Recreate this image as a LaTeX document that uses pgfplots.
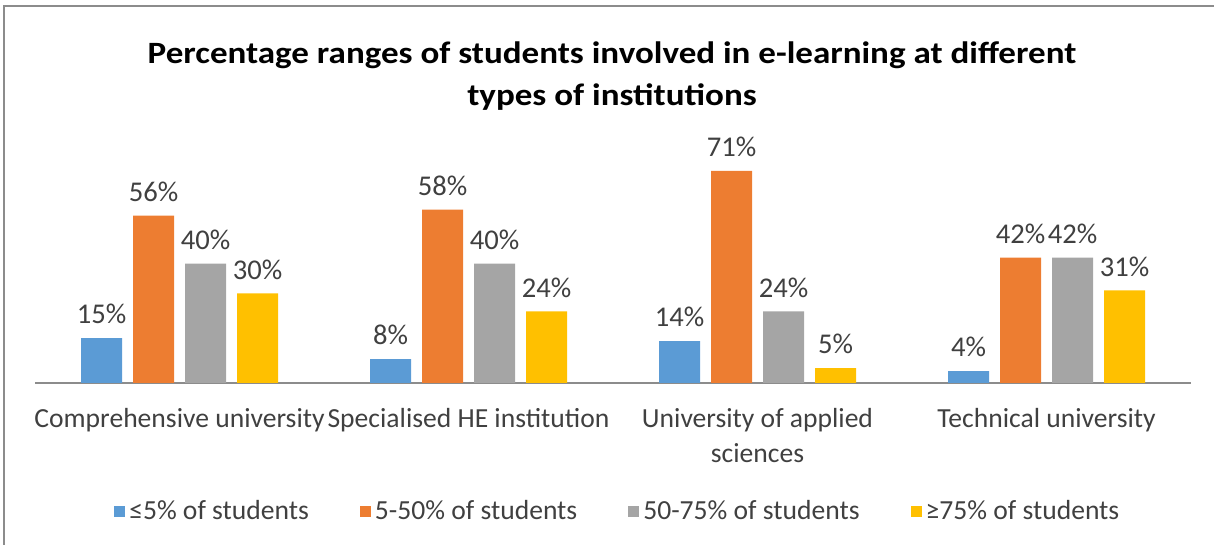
\documentclass[border=0pt]{standalone}
\usepackage{pgfplots}
\pgfplotsset{compat=1.18}
\usepackage{fontspec}
\setmainfont{Carlito}
\definecolor{cBlue}{HTML}{5B9BD5}
\definecolor{cOrange}{HTML}{ED7D31}
\definecolor{cGray}{HTML}{A5A5A5}
\definecolor{cYellow}{HTML}{FFC000}
\definecolor{txt}{HTML}{404040}
\begin{document}
\begin{tikzpicture}[x=1pt,y=1pt]
\path[use as bounding box] (0,0) rectangle (607,272.5);
\draw[color=black!45, line width=0.8pt] (2,0) -- (2,269.5) -- (607,269.5);
\node[align=center, text=black, font=\fontsize{15.5}{21}\selectfont\bfseries] at (306,234.5)
  {\scalebox{1.13}[1]{Percentage ranges of students involved in e-learning at different}\\
   \scalebox{1.13}[1]{types of institutions}};
\begin{axis}[
  at={(17.5pt,81pt)}, anchor=south west,
  scale only axis, width=578pt, height=116.5pt,
  xmin=-0.5, xmax=3.5, ymin=0, ymax=78,
  ybar=5.5pt, bar width=20.5pt,
  axis y line=none,
  axis x line*=bottom,
  x axis line style={color=black!45, line width=0.8pt},
  xtick=data,
  xticklabels={Comprehensive university,Specialised HE institution,University of applied\\sciences,Technical university},
  xticklabel style={align=center, font=\fontsize{13.8}{17.5}\selectfont, text=txt, yshift=-9pt},
  major tick length=0pt,
  /pgf/number format/assume math mode=true,
  nodes near coords={\pgfmathprintnumber{\pgfplotspointmeta}\%},
  nodes near coords style={font=\fontsize{14.3}{16}\selectfont, text=txt, yshift=3.5pt},
  legend columns=4,
  legend style={at={(0.505,-0.55)}, anchor=center, draw=none, fill=none,
    font=\fontsize{13.8}{16}\selectfont, text=txt,
    /tikz/every even column/.append style={column sep=23.5pt}},
  legend image code/.code={\fill[#1] (0pt,-2.75pt) rectangle (5.5pt,2.75pt);},
]
\addplot[fill=cBlue, draw=none] coordinates {(0,15) (1,8) (2,14) (3,4)};
\addplot[fill=cOrange, draw=none] coordinates {(0,56) (1,58) (2,71) (3,42)};
\addplot[fill=cGray, draw=none] coordinates {(0,40) (1,40) (2,24) (3,42)};
\addplot[fill=cYellow, draw=none] coordinates {(0,30) (1,24) (2,5) (3,31)};
\legend{≤5\% of students,5-50\% of students,50-75\% of students,≥75\% of students}
\end{axis}
\end{tikzpicture}
\end{document}
